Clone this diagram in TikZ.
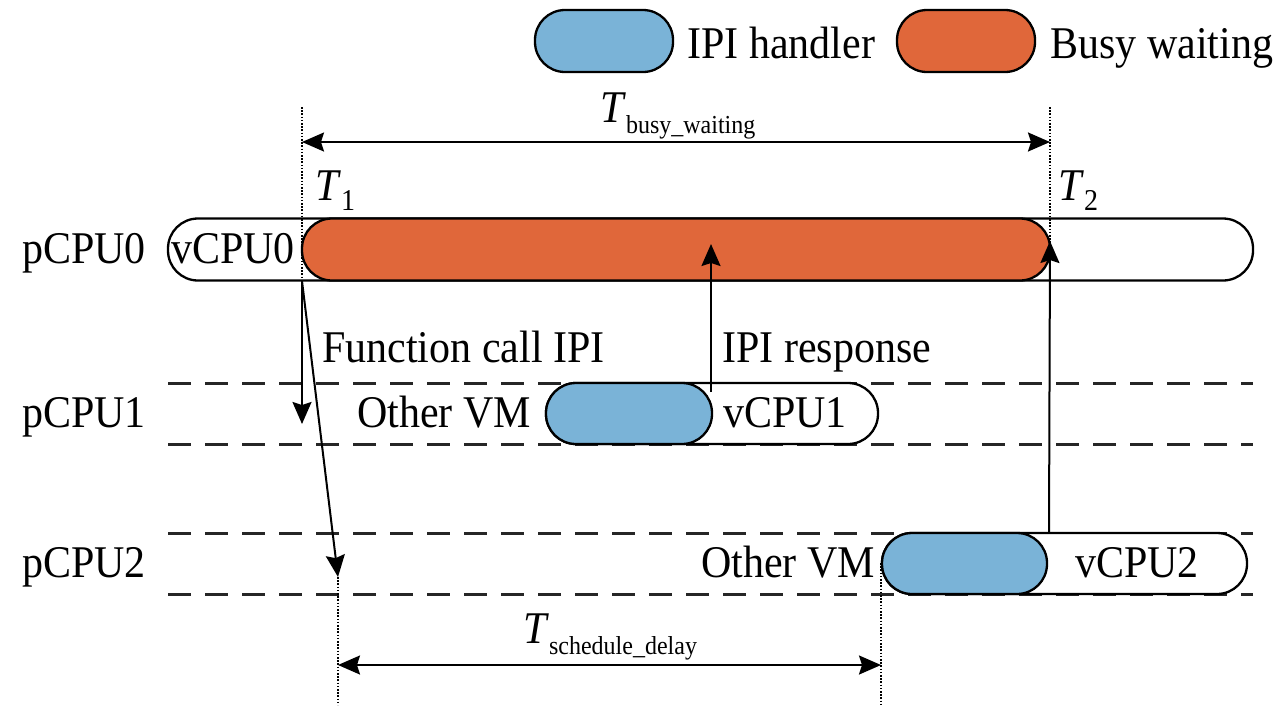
\documentclass[tikz,border=0pt]{standalone}
\usepackage{fontspec}
\setmainfont{Liberation Serif}
\usetikzlibrary{arrows.meta}
\definecolor{ipiblue}{HTML}{7AB3D7}
\definecolor{busyorange}{HTML}{E0673A}
\begin{document}
\begin{tikzpicture}[x=1pt,y=-1pt,
  pill/.style={draw=black, line width=2.3pt, rounded corners=30pt, minimum height=62pt, inner sep=0pt},
  lbl/.style={font=\fontsize{42}{50}\selectfont, inner sep=0pt, yscale=1.08, transform shape},
  arr/.style={line width=2pt, -{Stealth[length=22pt,width=19pt,inset=3pt]}},
  dimarr/.style={line width=2pt, {Stealth[length=22pt,width=19pt,inset=3pt]}-{Stealth[length=22pt,width=19pt,inset=3pt]}},
  guide/.style={line width=1.8pt, dash pattern=on 1.6pt off 1.6pt},
  lane/.style={line width=3pt, dash pattern=on 23pt off 14pt, black!85}
]
\useasboundingbox (0,0) rectangle (1276,705);
% legend
\node[pill, fill=ipiblue, minimum width=138pt] (legblue) at (604,41) {};
\node[lbl, anchor=base west] (legbluetxt) at (687,58) {IPI handler};
\node[pill, fill=busyorange, minimum width=138pt] (legorange) at (966,41) {};
\node[lbl, anchor=base west] (legorangetxt) at (1050,58) {Busy waiting};
% lanes
\draw[lane] (168,383) -- (1253,383);
\draw[lane] (168,444) -- (1253,444);
\draw[lane] (168,533) -- (1253,533);
\draw[lane] (168,594) -- (1253,594);
% row 0
\node[pill, fill=white, minimum width=1085pt] (w0) at (710.5,249.5) {};
\node[pill, fill=busyorange, minimum width=748pt] (o0) at (676,249.5) {};
% row 1
\node[pill, fill=white, minimum width=332pt, minimum height=61pt] (w1) at (712,413.5) {};
\node[pill, fill=ipiblue, minimum width=166pt, minimum height=61pt] (b1) at (629,413.5) {};
% row 2
\node[pill, fill=white, minimum width=365pt, minimum height=61pt] (w2) at (1064.5,563.5) {};
\node[pill, fill=ipiblue, minimum width=165pt, minimum height=61pt] (b2) at (964.5,563.5) {};
% coordinates
\coordinate (t1top) at (302,107);
\coordinate (t1bot) at (302,281);
\coordinate (t2top) at (1050,107);
\coordinate (t2bot) at (1050,281);
\coordinate (p1tip) at (302,424);
\coordinate (p2tip) at (338,577);
\coordinate (sdl) at (338,705);
\coordinate (sdr) at (881,705);
\coordinate (sdrtop) at (881,563);
\coordinate (resp1) at (711,392);
\coordinate (resp1tip) at (711,244);
\coordinate (resp2) at (1049,533);
\coordinate (resp2tip) at (1050,241);
% guides
\draw[guide] (t1top) -- (t1bot);
\draw[guide] (t2top) -- (t2bot);
\draw[guide] (p2tip) -- (sdl);
\draw[guide] (sdrtop) -- (sdr);
% arrows
\draw[dimarr] (302,142) -- (1050,142);
\draw[dimarr] (338,665) -- (881,665);
\draw[arr] (t1bot) -- (p1tip);
\draw[arr] (t1bot) -- (p2tip);
\draw[arr] (resp1) -- (resp1tip);
\draw[arr] (resp2) -- (resp2tip);
% labels
\node[lbl, anchor=base west] (tbw) at (600,122) {\textit{T}\raisebox{-11pt}{\fontsize{24}{24}\selectfont busy\_waiting}};
\node[lbl, anchor=base west] (tsd) at (523,643) {\textit{T}\raisebox{-11pt}{\fontsize{24}{24}\selectfont schedule\_delay}};
\node[lbl, anchor=base west] (t1) at (315,200) {\textit{T}\raisebox{-10pt}{\fontsize{28}{28}\selectfont 1}};
\node[lbl, anchor=base west] (t2) at (1058,200) {\textit{T}\raisebox{-10pt}{\fontsize{28}{28}\selectfont 2}};
\node[lbl, anchor=base west] (pc0) at (22,263.5) {pCPU0};
\node[lbl, anchor=base west] (pc1) at (22,427.5) {pCPU1};
\node[lbl, anchor=base west] (pc2) at (22,577.5) {pCPU2};
\node[lbl, anchor=base] (vc0) at (233,263.5) {vCPU0};
\node[lbl, anchor=base east] (ovm1) at (531,427.5) {Other VM};
\node[lbl, anchor=base] (vc1) at (785,427.5) {vCPU1};
\node[lbl, anchor=base east] (ovm2) at (875,577.5) {Other VM};
\node[lbl, anchor=base] (vc2) at (1137,577.5) {vCPU2};
\node[lbl, anchor=base west] (fcall) at (322,362) {Function call IPI};
\node[lbl, anchor=base west] (iresp) at (722,362) {IPI response};
\end{tikzpicture}
\end{document}
